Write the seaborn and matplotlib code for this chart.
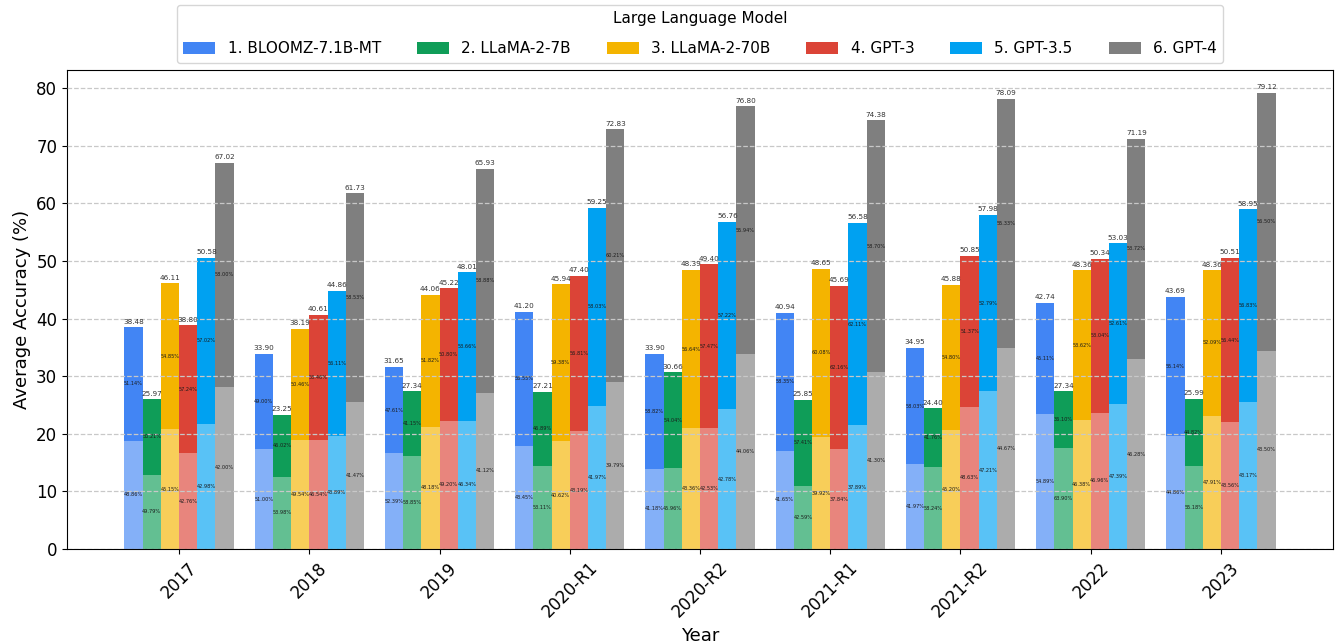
import numpy as np
import pandas as pd
import seaborn as sns
import matplotlib.pyplot as plt
from matplotlib.patches import Patch

# data
years = ['2017', '2018', '2019', '2020-R1', '2020-R2', '2021-R1', '2021-R2', '2022', '2023']
models = ['1. BLOOMZ-7.1B-MT', '2. LLaMA-2-7B', '3. LLaMA-2-70B', '4. GPT-3', '5. GPT-3.5', '6. GPT-4']
colors = ['#4285F4', '#0F9D58', '#F4B400', '#DB4437', '#00A1F1', '#7F7F7F']

# average accuracy (bar totals)
bloomz_total = [38.48, 33.90, 31.65, 41.20, 33.90, 40.94, 34.95, 42.74, 43.69]
llama7_total = [25.97, 23.25, 27.34, 27.21, 30.66, 25.85, 24.40, 27.34, 25.99]
llama70_total = [46.11, 38.19, 44.06, 45.94, 48.39, 48.65, 45.88, 48.36, 48.36]
gpt3_total = [38.80, 40.61, 45.22, 47.40, 49.40, 45.69, 50.85, 50.34, 50.51]
gpt35_total = [50.58, 44.86, 48.01, 59.25, 56.76, 56.58, 57.98, 53.03, 58.95]
gpt4_total = [67.02, 61.73, 65.93, 72.83, 76.80, 74.38, 78.09, 71.19, 79.12]

# share (%) of the lower (light) segment of each bar
bloomz_low = [48.86, 51.00, 52.39, 43.45, 41.18, 41.65, 41.97, 54.89, 44.86]
llama7_low = [49.79, 53.98, 58.85, 53.11, 45.96, 42.59, 58.24, 63.90, 55.18]
llama70_low = [45.15, 49.54, 48.18, 40.62, 43.36, 39.92, 45.20, 46.38, 47.91]
gpt3_low = [42.76, 46.54, 49.20, 43.19, 42.53, 37.84, 48.63, 46.96, 43.56]
gpt35_low = [42.98, 43.89, 46.34, 41.97, 42.78, 37.89, 47.21, 47.39, 43.17]
gpt4_low = [42.00, 41.47, 41.12, 39.79, 44.06, 41.30, 44.67, 46.28, 43.50]

totals = [bloomz_total, llama7_total, llama70_total, gpt3_total, gpt35_total, gpt4_total]
lows = [bloomz_low, llama7_low, llama70_low, gpt3_low, gpt35_low, gpt4_low]

rows = []
for m, tot, low in zip(models, totals, lows):
    for y, t, p in zip(years, tot, low):
        rows.append({'Year': y, 'Model': m, 'Total': t, 'LowPct': p, 'Lower': t * p / 100})
df = pd.DataFrame(rows)

# lighter shade for the lower segment
light = [tuple(0.65 * np.array(plt.matplotlib.colors.to_rgb(c)) + 0.35) for c in colors]

fig, ax = plt.subplots(figsize=(13.35, 6.44), dpi=100)
fig.subplots_adjust(left=0.0502, right=0.9985, top=0.891, bottom=0.1475)

sns.barplot(data=df, x='Year', y='Total', hue='Model', hue_order=models, order=years,
            palette=colors, saturation=1, width=0.84, errorbar=None, legend=False, ax=ax)
sns.barplot(data=df, x='Year', y='Lower', hue='Model', hue_order=models, order=years,
            palette=light, saturation=1, width=0.84, errorbar=None, legend=False, ax=ax)

n = len(models)
for i, m in enumerate(models):
    sub = df[df['Model'] == m].set_index('Year').loc[years]
    top_c = ax.containers[i]
    ax.bar_label(top_c, labels=[f'{v:.2f}' for v in sub['Total']], fontsize=5.2,
                 color='#333333', padding=2)
    for bar, t, lo, p in zip(top_c, sub['Total'], sub['Lower'], sub['LowPct']):
        xc = bar.get_x() + bar.get_width() / 2
        ax.text(xc, (lo + t) / 2, f'{100 - p:.2f}%', ha='center', va='center',
                fontsize=3.6, color='#1a1a1a')
        ax.text(xc, lo / 2, f'{p:.2f}%', ha='center', va='center',
                fontsize=3.6, color='#1a1a1a')

ax.set_xlim(-0.86, len(years) - 1 + 0.86)
ax.set_ylim(0, 83.1)
ax.set_yticks(range(0, 81, 10))
ax.grid(axis='y', linestyle='--', color='#c8c8c8', linewidth=0.9)
ax.set_axisbelow(False)
ax.set_xlabel('Year', fontsize=13)
ax.set_ylabel('Average Accuracy (%)', fontsize=13)
ax.tick_params(axis='x', labelsize=12, rotation=45)
ax.tick_params(axis='y', labelsize=12)

handles = [Patch(facecolor=c, label=m) for c, m in zip(colors, models)]
ax.legend(handles=handles, title='Large Language Model', ncol=6, loc='lower center',
          bbox_to_anchor=(0.5, 1.0), fontsize=11, title_fontsize=11,
          columnspacing=2.35, labelspacing=1.0, handleheight=0.8, handlelength=2.1)

plt.savefig('out.png', dpi=100)
